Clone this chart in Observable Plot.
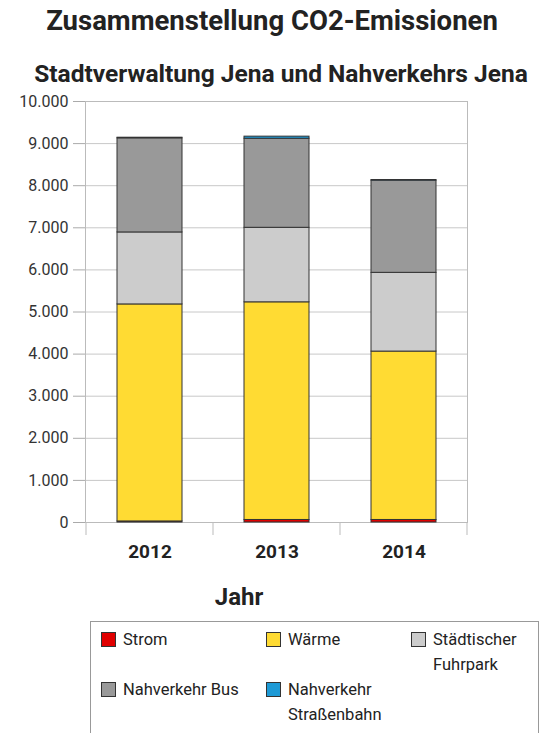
<!DOCTYPE html>
<html>
<head>
<meta charset="utf-8">
<script src="https://cdn.jsdelivr.net/npm/d3@7"></script>
<script src="https://cdn.jsdelivr.net/npm/@observablehq/plot@0.6"></script>
<style>
  body { margin: 0; background: #fff; font-family: Roboto, "Open Sans", sans-serif; color: #222; }
  #wrap { position: relative; width: 544px; height: 733px; overflow: hidden; }
  .title { position: absolute; left: 0; width: 544px; text-align: center; font-weight: bold; white-space: nowrap; }
  #t1 { top: 4px; font-size: 27.5px; left: 0; }
  #t2 { top: 59px; font-size: 24.5px; left: 9px; }
  #chart { position: absolute; left: 0; top: 92px; }
  #xtitle { position: absolute; left: 189px; width: 100px; text-align: center; top: 583px; font-size: 24px; font-weight: bold; color: #222; }
  #legend { position: absolute; left: 90px; top: 621px; width: 449px; height: 140px; border: 1px solid #999; box-sizing: border-box; }
  .item { position: absolute; font-size: 16.5px; line-height: 25px; color: #222; }
  .sw { position: absolute; left: 0; top: 5px; width: 13px; height: 13px; border: 1px solid #333; }
  .lab { position: absolute; left: 22px; top: 0; white-space: pre; }
</style>
</head>
<body>
<div id="wrap">
  <div class="title" id="t1">Zusammenstellung CO2-Emissionen</div>
  <div class="title" id="t2">Stadtverwaltung Jena und Nahverkehrs Jena</div>
  <div id="chart"></div>
  <div id="xtitle">Jahr</div>
  <div id="legend"></div>
</div>
<script>
// ---- data ----
const years = ["2012", "2013", "2014"];
const seriesNames = ["Strom", "Wärme", "Städtischer Fuhrpark", "Nahverkehr Bus", "Nahverkehr Straßenbahn"];
const legendLabels = ["Strom", "Wärme", "Städtischer\nFuhrpark", "Nahverkehr Bus", "Nahverkehr\nStraßenbahn"];
const seriesColors = ["#e00000", "#ffdb33", "#cccccc", "#999999", "#1e9ad6"];
const strom = [25, 60, 60];
const waerme = [5155, 5170, 4000];
const fuhrpark = [1710, 1770, 1870];
const bus = [2235, 2115, 2190];
const strassenbahn = [15, 50, 15];
const yTicks = [0, 1000, 2000, 3000, 4000, 5000, 6000, 7000, 8000, 9000, 10000];

const seriesValues = [strom, waerme, fuhrpark, bus, strassenbahn];
const table = [];
seriesNames.forEach((s, i) => years.forEach((y, j) => table.push({ year: y, series: s, value: seriesValues[i][j] })));

const de = d3.formatLocale({ decimal: ",", thousands: ".", grouping: [3], currency: ["", "€"] });
const fmt = de.format(",.0f");

const chart = Plot.plot({
  width: 544,
  height: 528,
  marginTop: 9,
  marginLeft: 85,
  marginRight: 77,
  marginBottom: 98,
  style: { fontFamily: "Roboto, 'Open Sans', sans-serif", background: "#fff" },
  x: { domain: years, paddingInner: 0.49, paddingOuter: 0.245, label: null },
  y: { domain: [0, 10000], label: null },
  color: { domain: seriesNames, range: seriesColors },
  marks: [
    Plot.gridY(yTicks, { stroke: "#c8c8c8", strokeOpacity: 1 }),
    Plot.frame({ stroke: "#bbbbbb" }),
    Plot.barY(table, { x: "year", y: "value", fill: "series", z: "series", order: seriesNames, stroke: "#333", strokeWidth: 1 }),
    Plot.axisY(yTicks, { tickFormat: fmt, tickSize: 12, tickPadding: 5, stroke: "#aaaaaa", fill: "#333", fontSize: 16, label: null }),
    Plot.axisX({ tickSize: 0, tickPadding: 22, fill: "#222", fontSize: 19, fontWeight: "bold", label: null })
  ]
});
document.getElementById("chart").appendChild(chart);

// boundary ticks on the x axis (between categories)
const xs = chart.scale("x"), ys = chart.scale("y");
const centers = years.map(d => xs.apply(d) + xs.bandwidth / 2);
const bounds = centers.map(c => c - xs.step / 2).concat([centers[centers.length - 1] + xs.step / 2]);
const y0 = ys.apply(0);
d3.select(chart).append("g").selectAll("line").data(bounds).join("line")
  .attr("x1", d => d).attr("x2", d => d).attr("y1", y0).attr("y2", y0 + 13)
  .attr("stroke", "#bbbbbb");

// legend
const cols = [10, 175, 320];
const rows = [5, 55];
const leg = document.getElementById("legend");
seriesNames.forEach((s, i) => {
  const it = document.createElement("div");
  it.className = "item";
  it.style.left = cols[i % 3] + "px";
  it.style.top = rows[Math.floor(i / 3)] + "px";
  const sw = document.createElement("div");
  sw.className = "sw";
  sw.style.background = seriesColors[i];
  const lab = document.createElement("div");
  lab.className = "lab";
  lab.textContent = legendLabels[i];
  it.appendChild(sw); it.appendChild(lab);
  leg.appendChild(it);
});
</script>
</body>
</html>
